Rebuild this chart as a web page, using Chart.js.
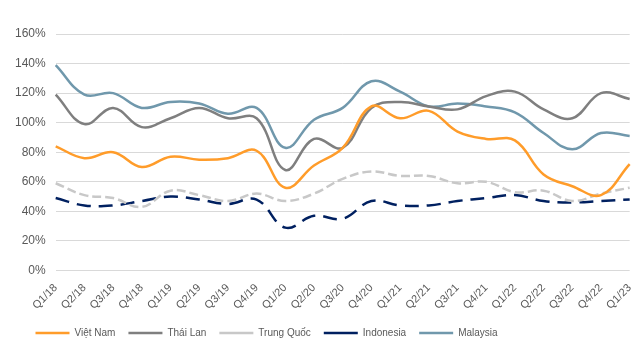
<!DOCTYPE html>
<html><head><meta charset="utf-8">
<script src="https://cdn.jsdelivr.net/npm/chart.js@4"></script>
<style>html,body{margin:0;padding:0;background:#fff}#wrap{width:642px;height:357px}</style>
</head><body><div id="wrap"><canvas id="c"></canvas></div>
<script>
const categories = ["Q1/18","Q2/18","Q3/18","Q4/18","Q1/19","Q2/19","Q3/19","Q4/19","Q1/20","Q2/20","Q3/20","Q4/20","Q1/21","Q2/21","Q3/21","Q4/21","Q1/22","Q2/22","Q3/22","Q4/22","Q1/23"];
const vietNam   = [84,76,80,70,77,75,76,81,56,71,83,111,103,108,94,89,88,65,57,51,72];
const thaiLan   = [119,99,110,97,103,110,103,103,68,89,83,110,114,111,109,118,121,109,103,120,116];
const trungQuoc = [59,51,49,43,54,51,47,52,47,52,62,67,64,64,59,60,53,54,47,52,56];
const indonesia = [49,44,44,47,50,48,45,48,29,37,35,47,44,44,47,49,51,47,46,47,48];
const malaysia  = [139,119,120,110,114,113,106,110,83,102,110,128,121,111,113,111,107,93,82,93,91];
const yTicks = [0,20,40,60,80,100,120,140,160];

function ds(label, data, color, dash){
  return {label, data, borderColor: color, backgroundColor: color, borderWidth: 2.5,
    borderDash: dash, pointRadius: 0, tension: 0.4, fill: false};
}
const legendShift = {
  id: 'legendShift',
  afterLayout(chart){
    const lg = chart.legend;
    if (!lg) return;
    const total = lg.lineWidths[0];
    const targetStart = 29;
    const curStart = (lg.left + lg.right - total) / 2;
    const d = targetStart - curStart;
    lg.left += d; lg.right += d;
  }
};
Chart.defaults.font.family = "'Liberation Sans', Arial, sans-serif";
Chart.defaults.font.size = 11;
Chart.defaults.color = '#595959';
new Chart(document.getElementById('c'), {
  type: 'line',
  data: {
    labels: categories,
    datasets: [
      ds('Việt Nam', vietNam, '#FF9C2A', []),
      ds('Thái Lan', thaiLan, '#7F7F7F', []),
      ds('Trung Quốc', trungQuoc, '#C8C8C8', [9,4]),
      ds('Indonesia', indonesia, '#002060', [14,8]),
      ds('Malaysia', malaysia, '#7098AC', [])
    ]
  },
  plugins: [legendShift],
  options: {
    responsive: true, maintainAspectRatio: false, animation: false,
    layout: {padding: {top: 34, right: 5, left: 5, bottom: 9}},
    plugins: {
      tooltip: {enabled: false},
      legend: {position: 'bottom', labels: {usePointStyle: true, pointStyle: 'line', pointStyleWidth: 34, boxHeight: 10, padding: 13, color: '#595959', font: {size: 10}}}
    },
    scales: {
      x: {grid: {display: false}, border: {display: false},
          ticks: {minRotation: 45, maxRotation: 45, autoSkip: false, color: '#595959', font: {size: 11}}},
      y: {min: 0, max: 160, border: {display: false},
          grid: {color: '#D9D9D9', lineWidth: 1, drawTicks: false},
          afterBuildTicks: (a) => { a.ticks = yTicks.map(v => ({value: v})); },
          ticks: {padding: 10, color: '#595959', font: {size: 12}, callback: v => v + '%'}}
    }
  }
});
</script></body></html>
